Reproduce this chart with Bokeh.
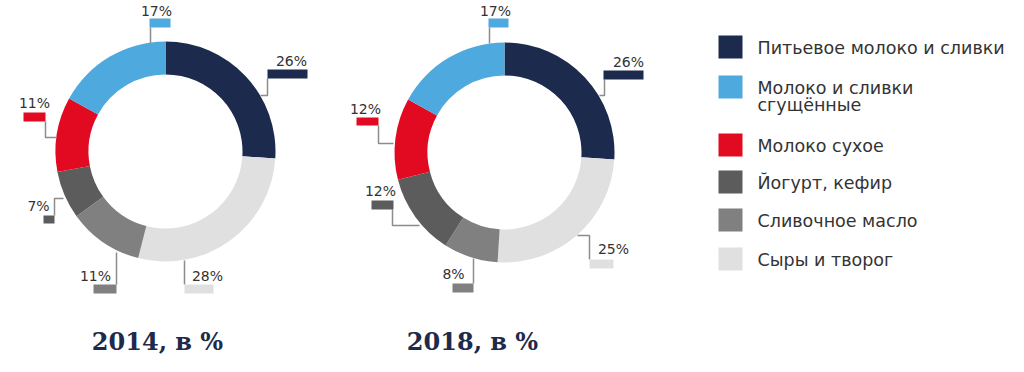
import numpy as np
from bokeh.plotting import figure
from bokeh.models import Range1d
from bokeh.core.properties import value
from bokeh.embed import file_html
from bokeh.resources import INLINE

# ---------------- data ----------------
categories = ["Питьевое молоко и сливки", "Молоко и сливки\nсгущённые", "Молоко сухое",
              "Йогурт, кефир", "Сливочное масло", "Сыры и творог"]
years = ["2014, в %", "2018, в %"]
values_2014 = [26, 17, 11, 7, 11, 28]
values_2018 = [26, 17, 12, 12, 8, 25]
# clockwise drawing order starting at 12 o'clock (indices into categories)
draw_order = [0, 5, 4, 3, 2, 1]

# ---------------- style / layout ----------------
colors = ["#1c2a4d", "#4ea9df", "#e20a20", "#5c5c5c", "#808080", "#e0e0e0"]
W, H = 1008, 356
PAGE_H = 372

def Y(py):  # page pixel y -> data y
    return PAGE_H - py

centers = [(165, 151), (504, 152)]
R_OUT, R_IN = 110, 77
title_pos = [(157, 341), (472, 341)]

# per donut, per category: label box (x0, y0, x1, y1), text centre, leader polyline
label_layout = [
    [
        dict(box=(267, 69, 307, 78), txt=(291, 60), lead=[(267, 78), (267, 95), (260, 95)]),
        dict(box=(149, 18, 170, 27), txt=(156, 10), lead=[(150, 27), (150, 43)]),
        dict(box=(23, 112, 45, 121), txt=(34, 102), lead=[(45, 121), (45, 137), (56, 137)]),
        dict(box=(43, 215, 54, 223), txt=(38, 205), lead=[(54, 215), (54, 198), (63, 198)]),
        dict(box=(93, 284, 116, 293), txt=(95, 275), lead=[(116, 284), (116, 252)]),
        dict(box=(184, 284, 213, 293), txt=(207, 275), lead=[(184, 284), (184, 260)]),
    ],
    [
        dict(box=(603, 70, 643, 79), txt=(628, 61), lead=[(604, 79), (604, 95), (599, 95)]),
        dict(box=(488, 18, 508, 27), txt=(495, 10), lead=[(489, 27), (489, 43)]),
        dict(box=(356, 117, 378, 125), txt=(365, 108), lead=[(378, 125), (378, 143), (393, 143)]),
        dict(box=(371, 200, 393, 209), txt=(380, 190), lead=[(392, 209), (392, 225), (419, 225)]),
        dict(box=(452, 283, 473, 292), txt=(453, 273), lead=[(473, 283), (473, 258)]),
        dict(box=(589, 259, 613, 268), txt=(613, 248), lead=[(589, 259), (589, 235), (577, 235)]),
    ],
]

legend_x0, legend_sq = 718, 24
legend_tops = [35, 75, 133, 170, 208, 247]
legend_text_x = 757
line_gap = 17

p = figure(width=W, height=H, output_backend="svg", toolbar_location=None,
           x_range=Range1d(0, W), y_range=Range1d(PAGE_H - H, PAGE_H),
           x_axis_type=None, y_axis_type=None, min_border=0)
p.outline_line_color = None
p.grid.visible = False
p.background_fill_color = "white"

for d, vals in enumerate([values_2014, values_2018]):
    cx, cy = centers[d]
    total = float(sum(vals))
    cum = 0.0
    for i in draw_order:
        frac0 = cum / total
        cum += vals[i]
        frac1 = cum / total
        p.annular_wedge(x=[cx], y=[Y(cy)], inner_radius=R_IN, outer_radius=R_OUT,
                        start_angle=np.pi / 2 - 2 * np.pi * frac0,
                        end_angle=np.pi / 2 - 2 * np.pi * frac1,
                        direction="clock", fill_color=colors[i], line_color=None)
    for i, lay in enumerate(label_layout[d]):
        xs = [pt[0] for pt in lay["lead"]]
        ys = [Y(pt[1]) for pt in lay["lead"]]
        p.line(xs, ys, line_color="#8c8c8c", line_width=1.5)
        x0, y0, x1, y1 = lay["box"]
        p.quad(left=[x0], right=[x1], top=[Y(y0)], bottom=[Y(y1)],
               fill_color=colors[i], line_color=None)
        tx, ty = lay["txt"]
        p.text(x=[tx], y=[Y(ty)], text=[f"{vals[i]}%"], text_align="center",
               text_baseline="middle", text_font=value("DejaVu Sans"),
               text_font_size="14px", text_color="#333333")
    tx, ty = title_pos[d]
    p.text(x=[tx], y=[Y(ty)], text=[years[d]], text_align="center",
           text_baseline="middle", text_font=value("DejaVu Serif"),
           text_font_style="bold", text_font_size="24px", text_color="#1e2a4a")

for i, cat in enumerate(categories):
    top = legend_tops[i]
    p.quad(left=[legend_x0], right=[legend_x0 + legend_sq], top=[Y(top)],
           bottom=[Y(top + legend_sq - 1)], fill_color=colors[i], line_color=None)
    lines = cat.split("\n")
    for k, ln in enumerate(lines):
        p.text(x=[legend_text_x], y=[Y(top + 12 + k * line_gap)], text=[ln],
               text_align="left", text_baseline="middle",
               text_font=value("DejaVu Sans"), text_font_size="17.5px",
               text_color="#333333")

open("out.html", "w").write(file_html(p, INLINE))
